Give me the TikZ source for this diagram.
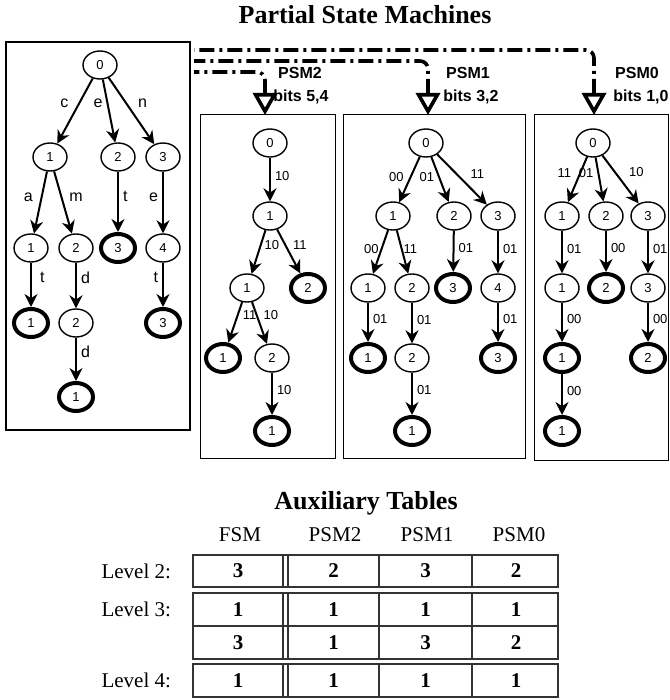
\documentclass[tikz,border=0pt]{standalone}
\usepackage{fontspec}
\setmainfont{Liberation Serif}
\setsansfont{Liberation Sans}
\usetikzlibrary{shapes.geometric,arrows.meta}

\begin{document}
\begin{tikzpicture}[x=0.5pt, y=-0.5pt,
    state/.style={ellipse, draw, line width=0.7pt, minimum width=17pt,
      minimum height=14pt, inner sep=0pt,
      font=\sffamily\fontsize{6.5}{7}\selectfont},
    accept/.style={state, line width=2pt},
    machine/.style={draw, line width=0.5pt, inner sep=0pt},
    feed/.style={line width=1.8pt, rounded corners=4pt,
      dash pattern=on 7.5pt off 2.5pt on 1.5pt off 2.5pt,
      {Triangle[length=11pt, width=12pt, fill=white]}-},
    psmlabel/.style={font=\sffamily\bfseries\fontsize{8}{9}\selectfont, inner sep=1pt},
    heading/.style={font=\bfseries\fontsize{13}{15}\selectfont},
    colhead/.style={font=\fontsize{10.5}{12}\selectfont},
    cell/.style={font=\bfseries\fontsize{10.5}{12}\selectfont},
    tabline/.style={line width=0.6pt, draw=black!80}]
  \useasboundingbox (0,0) rectangle (669,700);

  \node[heading] (title) at (365,15) {Partial State Machines};

  % full state machine
  \node[machine, line width=0.8pt, minimum width=92pt, minimum height=194pt] (fsmbox) at (98,236) {};
  \begin{scope}[every node/.style={state}]
    \node (f) at (100,65) {0};
    \node (fc) at (50,157) {1};
    \node (fe) at (118,157) {2};
    \node (fn) at (163,157) {3};
    \node (fca) at (31,248) {1};
    \node (fcm) at (76,248) {2};
    \node [accept] (fet) at (118,248) {3};
    \node (fne) at (163,248) {4};
    \node [accept] (fcat) at (31,323) {1};
    \node (fcmd) at (76,323) {2};
    \node [accept] (fnet) at (163,323) {3};
    \node [accept] (fcmdd) at (76,397) {1};
  \end{scope}
  \begin{scope}[->, >={Stealth[length=6.5pt, width=6.5pt]}, line width=1pt,
      every node/.style={font=\sffamily\fontsize{8}{9}\selectfont, inner sep=2pt}]
    \draw (f) to node [pos=0.38, left=3pt] {c} (fc);
    \draw (f) to node [pos=0.38, left] {e} (fe);
    \draw (f) to node [pos=0.38, right=3.5pt] {n} (fn);
    \draw (fc) to node [pos=0.41, left=2pt] {a} (fca);
    \draw (fc) to node [pos=0.41, right=1.5pt] {m} (fcm);
    \draw (fe) to node [pos=0.41, right] {t} (fet);
    \draw (fn) to node [pos=0.41, left] {e} (fne);
    \draw (fca) to node [pos=0.33, right=2pt] {t} (fcat);
    \draw (fcm) to node [pos=0.33, right] {d} (fcmd);
    \draw (fne) to node [pos=0.33, left] {t} (fnet);
    \draw (fcmd) to node [pos=0.33, right] {d} (fcmdd);
  \end{scope}

  % partial state machines
  \node[machine, minimum width=67.5pt, minimum height=171.5pt] (psm2box) at (267.5,286.5) {};
  \node[machine, minimum width=91pt, minimum height=171.5pt] (psm1box) at (434,286.5) {};
  \node[machine, minimum width=67pt, minimum height=172.5pt] (psm0box) at (601,287.5) {};

  \begin{scope}[every node/.style={state}]
    \node (s2) at (270,143) {0};
    \node (s2-10) at (270,216) {1};
    \node (s2-1010) at (247,288) {1};
    \node [accept] (s2-1011) at (308,288) {2};
    \node [accept] (s2-101011) at (223,358) {1};
    \node (s2-101010) at (272,358) {2};
    \node [accept] (s2-10101010) at (272,431) {1};

    \node (s1) at (426,143) {0};
    \node (s1-00) at (393,216) {1};
    \node (s1-01) at (454,216) {2};
    \node (s1-11) at (498,216) {3};
    \node (s1-0000) at (368,288) {1};
    \node (s1-0011) at (412,288) {2};
    \node [accept] (s1-0101) at (453,288) {3};
    \node (s1-1101) at (498,288) {4};
    \node [accept] (s1-000001) at (368,358) {1};
    \node (s1-001101) at (412,358) {2};
    \node [accept] (s1-110101) at (498,358) {3};
    \node [accept] (s1-00110101) at (412,431) {1};

    \node (s0) at (593,143) {0};
    \node (s0-11) at (562,216) {1};
    \node (s0-01) at (606,216) {2};
    \node (s0-10) at (648,216) {3};
    \node (s0-1101) at (562,288) {1};
    \node [accept] (s0-0100) at (606,288) {2};
    \node (s0-1001) at (648,288) {3};
    \node [accept] (s0-110100) at (562,358) {1};
    \node [accept] (s0-100100) at (648,358) {2};
    \node [accept] (s0-11010000) at (562,431) {1};
  \end{scope}

  \begin{scope}[->, >={Stealth[length=6.5pt, width=6.5pt]}, line width=1pt,
      every node/.style={font=\sffamily\fontsize{6.5}{7}\selectfont, inner sep=2pt}]
    \draw (s2) to node [pos=0.42, right] {10} (s2-10);
    \draw (s2-10) to node [pos=0.34, right=-0.5pt] {10} (s2-1010);
    \draw (s2-10) to node [pos=0.35, right=1.5pt] {11} (s2-1011);
    \draw (s2-1010) to node [pos=0.31, right] {11} (s2-101011);
    \draw (s2-1010) to node [pos=0.31, right=1pt] {10} (s2-101010);
    \draw (s2-101010) to node [pos=0.42, right] {10} (s2-10101010);

    \draw (s1) to node [pos=0.45, left=1pt] {00} (s1-00);
    \draw (s1) to node [pos=0.45, left] {01} (s1-01);
    \draw (s1) to node [pos=0.39, right=4.5pt] {11} (s1-11);
    \draw (s1-00) to node [pos=0.43, left=-1pt] {00} (s1-0000);
    \draw (s1-00) to node [pos=0.43, right=-1.5pt] {11} (s1-0011);
    \draw (s1-01) to node [pos=0.42, right] {01} (s1-0101);
    \draw (s1-11) to node [pos=0.42, right] {01} (s1-1101);
    \draw (s1-0000) to node [pos=0.42, right] {01} (s1-000001);
    \draw (s1-0011) to node [pos=0.42, right] {01} (s1-001101);
    \draw (s1-1101) to node [pos=0.42, right] {01} (s1-110101);
    \draw (s1-001101) to node [pos=0.42, right] {01} (s1-00110101);

    \draw (s0) to node [pos=0.36, left=2pt] {11} (s0-11);
    \draw (s0) to node [pos=0.36, left] {01} (s0-01);
    \draw (s0) to node [pos=0.35, right=4.5pt] {10} (s0-10);
    \draw (s0-11) to node [pos=0.42, right] {01} (s0-1101);
    \draw (s0-01) to node [pos=0.42, right] {00} (s0-0100);
    \draw (s0-10) to node [pos=0.42, right] {01} (s0-1001);
    \draw (s0-1101) to node [pos=0.42, right] {00} (s0-110100);
    \draw (s0-1001) to node [pos=0.42, right] {00} (s0-100100);
    \draw (s0-110100) to node [pos=0.42, right] {00} (s0-11010000);
  \end{scope}

  % split of the fsm into the three psms
  \coordinate (from0) at (194,50);
  \coordinate (from1) at (194,61);
  \coordinate (from2) at (194,72);
  \coordinate (in0) at (594,115);
  \coordinate (in1) at (428,115);
  \coordinate (in2) at (265,115);
  \draw[feed] (in0) |- (from0);
  \draw[feed] (in1) |- (from1);
  \draw[feed] (in2) |- (from2);
  \node[psmlabel] (name2) at (300,73) {PSM2};
  \node[psmlabel] (bits2) at (301,97) {bits 5,4};
  \node[psmlabel] (name1) at (468,73) {PSM1};
  \node[psmlabel] (bits1) at (471,97) {bits 3,2};
  \node[psmlabel] (name0) at (637,73) {PSM0};
  \node[psmlabel] (bits0) at (641,97) {bits 1,0};

  % auxiliary tables
  \node[heading] (auxtitle) at (366,503) {Auxiliary Tables};
  \node[colhead] (hfsm) at (240,535) {FSM};
  \node[colhead] (hpsm2) at (335,535) {PSM2};
  \node[colhead] (hpsm1) at (427,535) {PSM1};
  \node[colhead] (hpsm0) at (519,535) {PSM0};

  \foreach \ya/\yb in {555/587, 593/659, 664/697} {
    \draw[tabline] (193,\ya) rectangle (558,\yb);
    \foreach \x in {283,288,379,472}
      \draw[tabline] (\x,\ya) -- (\x,\yb);
  }
  \draw[tabline] (193,626) -- (558,626);

  \node[colhead, anchor=east] (lv2) at (178,571) {Level 2:};
  \node[colhead, anchor=east] (lv3) at (178,609.5) {Level 3:};
  \node[colhead, anchor=east] (lv4) at (178,680.5) {Level 4:};

  \foreach \r/\y/\a/\b/\c/\d in {1/571/3/2/3/2, 2/609.5/1/1/1/1, 3/642.5/3/1/3/2, 4/680.5/1/1/1/1} {
    \node[cell] (t\r-1) at (238,\y) {\a};
    \node[cell] (t\r-2) at (333.5,\y) {\b};
    \node[cell] (t\r-3) at (425.5,\y) {\c};
    \node[cell] (t\r-4) at (516,\y) {\d};
  }
\end{tikzpicture}
\end{document}
